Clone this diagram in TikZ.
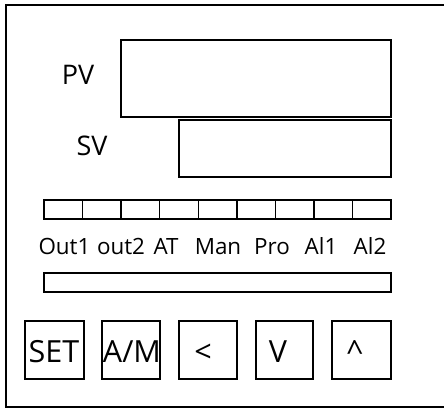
\documentclass[tikz,border=0pt]{standalone}
\usepackage{fontspec}
\setmainfont{Open Sans}
\usepackage{xcolor}

\tikzset{
  panel/.style={line width=1.6pt},
  led/.style={line width=1.4pt},
  tag/.style={anchor=base, inner sep=0pt, font=\fontsize{22.4}{26}\selectfont},
  keytext/.style={anchor=base, inner sep=0pt, font=\fontsize{30.5}{34}\selectfont},
  vartext/.style={anchor=base, inner sep=0pt, font=\fontsize{27}{30}\selectfont}
}

\begin{document}
\begin{tikzpicture}[x=1pt,y=-1pt]
\useasboundingbox (0,0) rectangle (444,408);

% front frame
\draw[panel] (460,5) -- (6,5) -- (6,407) -- (460,407);

% displays
\draw[panel] (121,40) rectangle (391,117);
\draw[panel] (179,120) rectangle (391,177);
\node[vartext] (pv) at (78,84) {PV};
\node[vartext] (sv) at (92,155) {SV};

% lamp row
\draw[led] (44,200) rectangle (391,219);
\foreach \i in {1,...,8}
  \draw[led] (44+\i*38.56,200) -- (44+\i*38.56,219);
\node[tag] (out1) at (64.5,254) {Out1};
\node[tag] (out2) at (121,254) {out2};
\node[tag] (at) at (166,254) {AT};
\node[tag] (man) at (218,254) {Man};
\node[tag] (pro) at (272,254) {Pro};
\node[tag] (al1) at (321,254) {Al1};
\node[tag] (al2) at (370,254) {Al2};
\draw[led] (44,273) rectangle (391,292);

% keys
\draw[panel] (25,321) rectangle (84,379);
\draw[panel] (102,321) rectangle (160,379);
\draw[panel] (179,321) rectangle (237,379);
\draw[panel] (256,321) rectangle (313,379);
\draw[panel] (332,321) rectangle (391,379);
\node[keytext] (set) at (54,362) {SET};
\node[keytext] (am) at (132,362) {A/M};
\node[keytext] (left) at (203,362) {<};
\node[keytext] (down) at (278,362) {V};
\node[keytext] (up) at (355,362) {\textasciicircum};

\end{tikzpicture}
\end{document}
